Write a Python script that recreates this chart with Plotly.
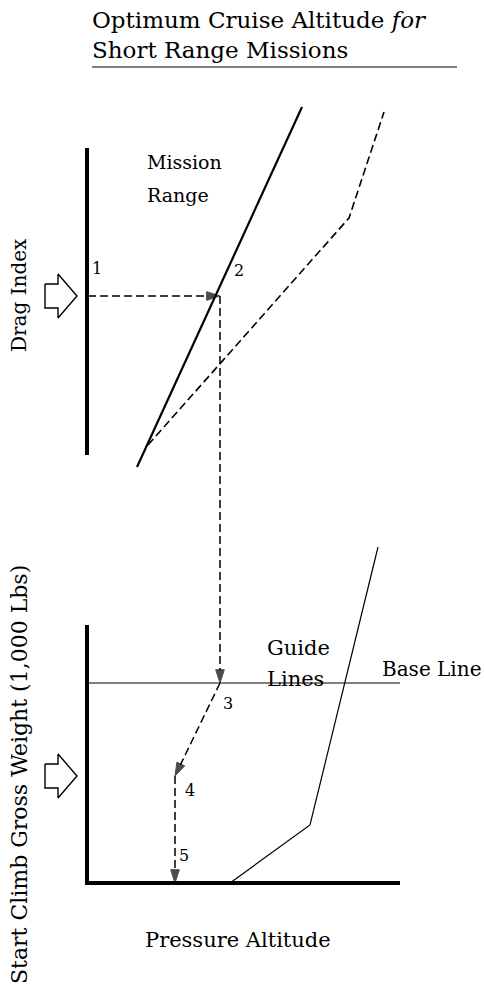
import plotly.graph_objects as go

# ---- data (diagram coordinates: x to the right, y downward, in chart units) ----
title_lines = ["Optimum Cruise Altitude <i>for</i>", "Short Range Missions"]

upper_axis_x = [87, 87]
upper_axis_y = [148, 455]

lower_axis_x = [87, 87, 400]
lower_axis_y = [625, 883, 883]

base_line_x = [87, 400]
base_line_y = [683, 683]

mission_solid_x = [137, 302]
mission_solid_y = [467, 107]

mission_dash_x = [148, 349, 384]
mission_dash_y = [445, 218, 112]

guide_x = [230, 310, 378]
guide_y = [883, 825, 547]

# reading path: points 1..5
path_labels = ["1", "2", "3", "4", "5"]
path_x = [88, 220, 220, 175, 175]
path_y = [296, 296, 683, 776, 883]

# hollow input arrows (pointing right), outline vertices
arrow_shape_dx = [0, 13, 13, 32, 13, 13, 0, 0]
arrow_shape_dy = [-12, -12, -22, 0, 22, 12, 12, -12]
arrow_tips_y = [296, 776]

fig = go.Figure()

BLACK = "black"

def line(x, y, w, dash="solid"):
    fig.add_trace(go.Scatter(x=x, y=y, mode="lines",
                             line=dict(color=BLACK, width=w, dash=dash),
                             hoverinfo="skip", showlegend=False))

# axes
line(upper_axis_x, upper_axis_y, 4)
line(lower_axis_x, lower_axis_y, 4)
line(base_line_x, base_line_y, 1)

# mission range lines
line(mission_solid_x, mission_solid_y, 2.2)
line(mission_dash_x, mission_dash_y, 1.6, dash="8px,4px")

# guide line
line(guide_x, guide_y, 1.2)

# dashed reading path segments with arrowheads
segments = [(0, 1), (1, 2), (2, 3), (3, 4)]
for a, b in segments:
    fig.add_trace(go.Scatter(
        x=[path_x[a], path_x[b]], y=[path_y[a], path_y[b]],
        mode="lines+markers",
        line=dict(color=BLACK, width=1.5, dash="8px,4px"),
        marker=dict(symbol=["circle", "arrow"], size=[0, 14], color=BLACK,
                    line=dict(color=BLACK, width=1),
                    angleref="previous", standoff=0),
        hoverinfo="skip", showlegend=False))

# hollow arrows
for ty in arrow_tips_y:
    xs = [45 + d for d in arrow_shape_dx]
    ys = [ty + d for d in arrow_shape_dy]
    line(xs, ys, 1.4)

SERIF = "DejaVu Serif"

def text(x, y, s, size=16, anchor="left", angle=0):
    fig.add_annotation(x=x, y=y, text=s, showarrow=False, xref="x", yref="y",
                       xanchor=anchor, yanchor="middle", textangle=angle,
                       font=dict(family=SERIF, size=size, color=BLACK))

# title
text(90, 20, title_lines[0], size=23)
text(90, 50, title_lines[1], size=23)
line([92, 457], [67, 67], 1.2)

# labels
text(145, 162, "Mission", size=19)
text(145, 195, "Range", size=19)
text(265, 648, "Guide", size=21)
text(265, 679, "Lines", size=21)
text(483, 669, "Base Line", size=20, anchor="right")
text(19, 295, "Drag Index", size=20, anchor="center", angle=-90)
text(19, 775, "Start Climb Gross Weight (1,000 Lbs)", size=22, anchor="center", angle=-90)
text(238, 940, "Pressure Altitude", size=21, anchor="center")

# point numbers
num_pos_x = [97, 239, 228, 190, 184]
num_pos_y = [268, 270, 703, 790, 855]
for lab, nx, ny in zip(path_labels, num_pos_x, num_pos_y):
    text(nx, ny, lab, size=16, anchor="center")

fig.update_xaxes(range=[0, 484], visible=False, fixedrange=True)
fig.update_yaxes(range=[988, 0], visible=False, fixedrange=True)
fig.update_layout(width=484, height=988, margin=dict(l=0, r=0, t=0, b=0),
                  paper_bgcolor="white", plot_bgcolor="white", showlegend=False)

fig.write_html("out.html",
               config={"displayModeBar": False, "staticPlot": True},
               post_script="document.body.style.margin='0px';document.body.style.overflow='hidden';")
